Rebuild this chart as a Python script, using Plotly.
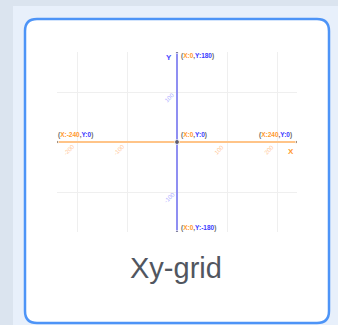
import plotly.graph_objects as go

W, H = 338, 325

# chart values
x_limits = [-240, 240]
y_limits = [-180, 180]
x_ticks = [-200, -100, 100, 200]
y_ticks = [-100, 100]
point_x = [0, -240, 240, 0, 0]
point_y = [180, 0, 0, 0, -180]
title = "Xy-grid"

ORANGE = "#ff9a2e"
BLUE = "#3b3bff"
FONT = "Liberation Sans, Arial, sans-serif"


def px(x):
    return x / W


def py(y):
    return 1 - y / H


def rounded_rect(x0, y0, x1, y1, r):
    return (
        f"M {px(x0 + r)} {py(y0)} L {px(x1 - r)} {py(y0)} "
        f"Q {px(x1)} {py(y0)} {px(x1)} {py(y0 + r)} "
        f"L {px(x1)} {py(y1 - r)} "
        f"Q {px(x1)} {py(y1)} {px(x1 - r)} {py(y1)} "
        f"L {px(x0 + r)} {py(y1)} "
        f"Q {px(x0)} {py(y1)} {px(x0)} {py(y1 - r)} "
        f"L {px(x0)} {py(y0 + r)} "
        f"Q {px(x0)} {py(y0)} {px(x0 + r)} {py(y0)} Z"
    )


def coord_label(x, y):
    return (f'(<span style="color:{ORANGE}">X:{x}</span>,'
            f'<span style="color:{BLUE}">Y:{y}</span>)')


fig = go.Figure()

# axes as lines
fig.add_trace(go.Scatter(x=x_limits, y=[0, 0], mode="lines",
                         line=dict(color="#ffc488", width=2), hoverinfo="skip"))
fig.add_trace(go.Scatter(x=[0, 0], y=y_limits, mode="lines",
                         line=dict(color="#8f8ff2", width=2), hoverinfo="skip"))
# end markers and origin
fig.add_trace(go.Scatter(x=point_x, y=point_y, mode="markers",
                         marker=dict(color="#444", size=[3, 3, 3, 5, 3]),
                         hoverinfo="skip"))

annotations = []
for v in x_ticks:
    annotations.append(dict(x=v - 16, y=-16, text=str(v), showarrow=False,
                            textangle=-45, xref="x", yref="y",
                            font=dict(size=6, color="#ffc898", family=FONT)))
for v in y_ticks:
    annotations.append(dict(x=-16, y=v - 11, text=str(v), showarrow=False,
                            textangle=-45, xref="x", yref="y",
                            font=dict(size=6, color="#b0b0ff", family=FONT)))

label_pos = [
    dict(xanchor="left", yanchor="middle", xshift=2, yshift=-4),
    dict(xanchor="left", yanchor="bottom", xshift=-1, yshift=1),
    dict(xanchor="right", yanchor="bottom", xshift=-3, yshift=1),
    dict(xanchor="left", yanchor="bottom", xshift=2, yshift=1),
    dict(xanchor="left", yanchor="middle", xshift=2, yshift=4),
]
for x, y, pos in zip(point_x, point_y, label_pos):
    annotations.append(dict(x=x, y=y, text="<b>" + coord_label(x, y) + "</b>",
                            showarrow=False, xref="x", yref="y",
                            font=dict(size=6.5, color="#666", family=FONT), **pos))

annotations.append(dict(x=0, y=180, text="<b>Y</b>", showarrow=False,
                        xanchor="right", yanchor="middle", xshift=-3, yshift=-5,
                        xref="x", yref="y",
                        font=dict(size=8, color="#4a4aff", family=FONT)))
annotations.append(dict(x=240, y=0, text="<b>X</b>", showarrow=False,
                        xanchor="right", yanchor="top", xshift=-1, yshift=-3,
                        xref="x", yref="y",
                        font=dict(size=8, color=ORANGE, family=FONT)))
annotations.append(dict(x=px(176), y=py(268), text=title, showarrow=False,
                        xref="paper", yref="paper", xanchor="center",
                        yanchor="middle",
                        font=dict(size=29, color="#51565f", family=FONT)))

shapes = [
    dict(type="rect", xref="paper", yref="paper", x0=px(13), x1=1,
         y0=0, y1=py(6), fillcolor="#e8f0fb", line=dict(width=0), layer="below"),
    dict(type="path", xref="paper", yref="paper",
         path=rounded_rect(25, 19, 329, 323, 12), fillcolor="white",
         line=dict(color="#4d94f7", width=2.5), layer="below"),
]

fig.update_layout(
    width=W, height=H,
    margin=dict(l=0, r=0, t=0, b=0),
    paper_bgcolor="#dbe4ef",
    plot_bgcolor="rgba(0,0,0,0)",
    showlegend=False,
    shapes=shapes,
    annotations=annotations,
    xaxis=dict(domain=[px(57), px(297)], range=x_limits, dtick=100,
               showgrid=True, gridcolor="#efefef", gridwidth=1,
               zeroline=False, showticklabels=False, fixedrange=True),
    yaxis=dict(domain=[py(232), py(52)], range=y_limits, dtick=100,
               showgrid=True, gridcolor="#efefef", gridwidth=1,
               zeroline=False, showticklabels=False, fixedrange=True),
)

fig.write_html("out.html", config={"displayModeBar": False},
               post_script="document.body.style.margin='0';"
                           "document.body.style.overflow='hidden';")
